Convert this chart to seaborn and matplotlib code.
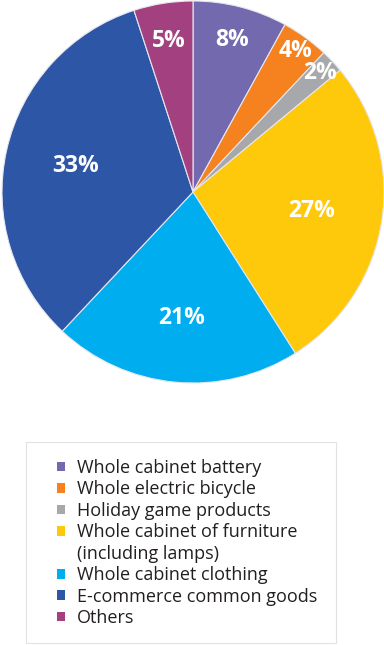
import numpy as np
import matplotlib
matplotlib.use('Agg')
import matplotlib.pyplot as plt
import seaborn as sns
from matplotlib.patches import Rectangle, Patch

# data
categories = ['Whole cabinet battery', 'Whole electric bicycle', 'Holiday game products',
              'Whole cabinet of furniture', 'Whole cabinet clothing',
              'E-commerce common goods', 'Others']
shares = [8, 4, 2, 27, 21, 33, 5]
colors = ['#7269AF', '#F5821F', '#A6A8AB', '#FFC90B', '#00AEEF', '#2E56A6', '#A3407F']
label_dist = [0.82, 0.91, 0.91, 0.63, 0.66, 0.63, 0.80]

sns.set_theme(style='white')
plt.rcParams['font.family'] = ['Open Sans', 'DejaVu Sans']
palette = sns.color_palette(colors)

W, H = 384, 645
fig = plt.figure(figsize=(W / 100, H / 100), dpi=100)
fig.patch.set_facecolor('white')

cx, cy, r = 193, 192, 191
ax = fig.add_axes([(cx - r) / W, 1 - (cy + r) / H, 2 * r / W, 2 * r / H])
wedges, _ = ax.pie(shares, colors=palette, startangle=90, counterclock=False,
                   radius=1, wedgeprops=dict(edgecolor='#e6e6ee', linewidth=0.8))
ax.set_xlim(-1, 1)
ax.set_ylim(-1, 1)
ax.set_aspect('equal')

for w, val, d in zip(wedges, shares, label_dist):
    ang = np.deg2rad((w.theta1 + w.theta2) / 2)
    ax.text(d * np.cos(ang), d * np.sin(ang), f'{val}%', ha='center', va='center',
            color='white', fontsize=16.5, fontweight='bold')

# legend box
box = Rectangle((26 / W, 1 - 643 / H), (336 - 26) / W, (643 - 442) / H,
                transform=fig.transFigure, facecolor='white', edgecolor='#e2e2e2',
                linewidth=0.8)
fig.patches.append(box)

handles = [Patch(facecolor=c, edgecolor='none') for c in colors]
labels = list(categories)
# second line of the furniture entry, without its own marker
handles.insert(4, Patch(facecolor='none', edgecolor='none'))
labels.insert(4, '(including lamps)')
leg = fig.legend(handles, labels, loc='upper left',
                 bbox_to_anchor=(48 / W, 1 - 450 / H), frameon=False,
                 fontsize=13, handlelength=0.44, handleheight=0.44,
                 handletextpad=0.66, labelspacing=0.19, borderpad=0)
for t in leg.get_texts():
    t.set_color('#231F20')

fig.savefig('out.png', dpi=100, facecolor='white')
